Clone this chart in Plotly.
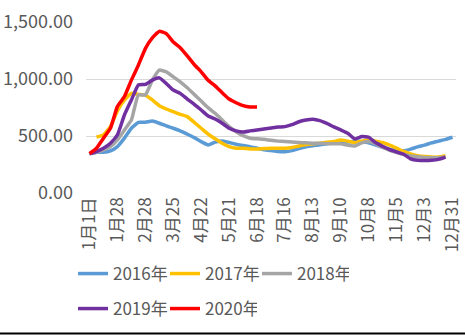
import plotly.graph_objects as go

# Weekly index (53 weeks) and the axis labels shown every 4 weeks
weeks = list(range(53))
tick_labels = ["1月1日", "1月28", "2月28", "3月25", "4月22", "5月21", "6月18",
               "7月16", "8月13", "9月10", "10月8", "11月5", "12月3", "12月31"]

s2016 = [345, 358, 358, 370, 407, 481, 568, 620, 620, 631, 612, 588, 568, 545,
         516, 486, 451, 422, 446, 457, 443, 428, 416, 407, 393, 380, 372, 364,
         362, 372, 390, 405, 415, 422, 432, 440, 445, 448, 451, 451, 440, 420,
         400, 385, 368, 370, 385, 405, 420, 440, 455, 470, 489]
s2017 = [None, 490, 510, 582, 720, 816, 874, 865, 859, 816, 766, 737, 713, 690,
         670, 620, 568, 516, 475, 437, 407, 393, 393, 387, 387, 390, 392, 393,
         393, 400, 413, 425, 432, 437, 445, 452, 466, 455, 443, 455, 466, 455,
         443, 420, 393, 365, 343, 328, 320, 315, 315, 326, None]
s2018 = [345, 358, 378, 407, 466, 553, 640, 860, 860, 990, 1078, 1063, 1019, 975,
         923, 865, 807, 748, 699, 641, 582, 538, 503, 481, 475, 471, 462, 455,
         451, 447, 443, 440, 437, 437, 433, 431, 431, 420, 413, 440, 451, 430,
         400, 375, 355, 338, 325, 318, 312, 310, 310, 315, None]
s2019 = [345, 364, 393, 437, 510, 684, 816, 947, 953, 990, 1010, 961, 903, 874,
         824, 778, 728, 676, 649, 612, 568, 545, 535, 545, 553, 562, 570, 578,
         582, 600, 625, 640, 647, 635, 610, 580, 553, 524, 475, 495, 489, 440,
         410, 380, 360, 340, 300, 287, 285, 287, 295, 315, None]
s2020 = [345, 393, 481, 568, 760, 845, 990, 1121, 1267, 1360, 1418, 1398, 1325,
         1275, 1203, 1127, 1063, 988, 940, 879, 824, 792, 766, 754, 754]

# (legend text, values, colour, legend row)
series = [
    ("2016年", s2016, "#5B9BD5", "legend"),
    ("2017年", s2017, "#FFC000", "legend"),
    ("2018年", s2018, "#A5A5A5", "legend"),
    ("2019年", s2019, "#7030A0", "legend2"),
    ("2020年", s2020, "#FF0000", "legend2"),
]

FONT = "Noto Sans CJK SC"
GREY_TXT = "#595959"

fig = go.Figure()
for name, vals, color, leg in series:
    fig.add_trace(go.Scatter(
        x=weeks[:len(vals)], y=vals, name=name, mode="lines",
        line=dict(color=color, width=3.5, shape="spline", smoothing=0.4),
        connectgaps=False, hoverinfo="skip", legend=leg,
    ))

legend_common = dict(
    orientation="h", x=0.157, xanchor="left", xref="container",
    yanchor="top", yref="container", entrywidth=47, entrywidthmode="pixels",
    font=dict(family=FONT, size=17, color=GREY_TXT),
    bgcolor="rgba(0,0,0,0)", itemwidth=30,
)

fig.update_layout(
    width=465, height=335,
    margin=dict(l=86, r=9, t=22, b=142),
    paper_bgcolor="white", plot_bgcolor="white",
    font=dict(family=FONT, size=17, color=GREY_TXT),
    showlegend=True,
    legend=dict(legend_common, y=0.2358),
    legend2=dict(legend_common, y=0.1313),
    xaxis=dict(
        range=[-0.5, 52.5], tickmode="array",
        tickvals=weeks[::4], ticktext=tick_labels, tickangle=-90,
        showgrid=False, zeroline=False, showline=False, ticks="",
        tickfont=dict(family=FONT, size=17, color=GREY_TXT),
        automargin=False,
    ),
    yaxis=dict(
        range=[0, 1500], tickvals=[0, 500, 1000, 1500], tickformat=",.2f",
        showgrid=True, gridcolor="#D9D9D9", gridwidth=1,
        zeroline=False, showline=False, ticks="",
        ticklabelstandoff=12, automargin=False,
        tickfont=dict(family=FONT, size=18, color=GREY_TXT),
    ),
    shapes=[dict(type="line", xref="paper", yref="paper",
                 x0=-0.24, x1=1.03, y0=-0.822, y1=-0.822,
                 line=dict(color="black", width=2))],
)

fig.write_html("out.html")
